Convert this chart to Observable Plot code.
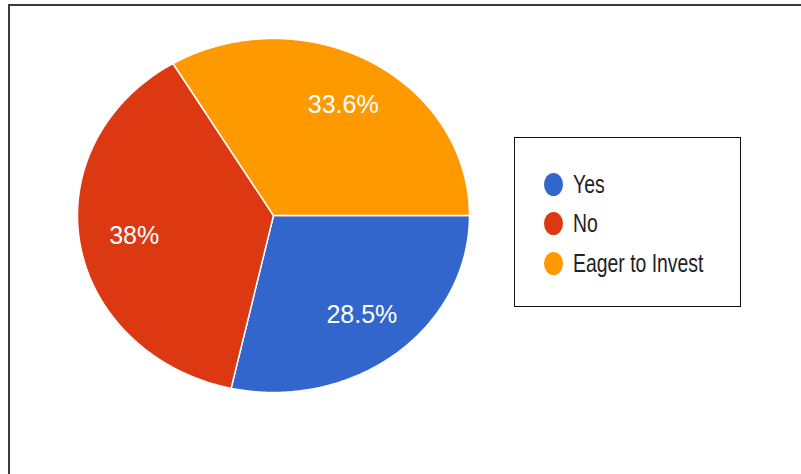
<!DOCTYPE html>
<html><head><meta charset="utf-8">
<script src="https://cdn.jsdelivr.net/npm/d3@7"></script>
<script src="https://cdn.jsdelivr.net/npm/@observablehq/plot@0.6"></script>
<style>
html,body{margin:0;padding:0;background:#fff;}
#wrap{position:relative;width:801px;height:474px;overflow:hidden;background:#fff;}
#chart{position:absolute;left:0;top:0;}
#frame{position:absolute;left:8px;top:4px;width:900px;height:600px;border-left:2px solid #3a3a3a;border-top:2px solid #3a3a3a;pointer-events:none;}
#legend{position:absolute;left:514px;top:137px;width:227px;height:170px;border:1px solid #111;box-sizing:border-box;background:#fff;font-family:"Liberation Sans",Arial,sans-serif;}
.sw{position:absolute;left:29px;width:19px;height:23px;border-radius:50%;}
.lb{position:absolute;left:58px;font-size:19.4px;line-height:19px;height:19px;color:#222;white-space:nowrap;transform-origin:left center;transform:scaleY(1.3);}
</style>
</head><body>
<div id="wrap"><div id="chart"></div><div id="frame"></div><div id="legend"></div></div>
<script>
const categories = ["Yes", "No", "Eager to Invest"];
const values = [28.5, 38, 33.6];
const labels = ["28.5%", "38%", "33.6%"];
const colors = ["#3366cc", "#dc3912", "#ff9900"];
const startAngleDeg = 90; // clockwise from 12 o'clock

const total = d3.sum(values);
const slices = [];
let acc = startAngleDeg * Math.PI / 180;
categories.forEach((c, i) => {
  const span = values[i] / total * 2 * Math.PI;
  slices.push({cat: c, a0: acc, a1: acc + span, label: labels[i]});
  acc += span;
});

const pts = [];
for (const s of slices) {
  pts.push({cat: s.cat, x: 0, y: 0});
  const n = Math.max(2, Math.ceil((s.a1 - s.a0) / (Math.PI / 360)));
  for (let k = 0; k <= n; k++) {
    const t = s.a0 + (s.a1 - s.a0) * k / n;
    pts.push({cat: s.cat, x: Math.sin(t), y: Math.cos(t)});
  }
  pts.push({cat: s.cat, x: 0, y: 0});
}

const labelR = 0.72;
const labelPts = slices.map(s => {
  const m = (s.a0 + s.a1) / 2;
  return {cat: s.cat, label: s.label, x: labelR * Math.sin(m), y: labelR * Math.cos(m)};
});

const chart = Plot.plot({
  width: 801,
  height: 474,
  margin: 0,
  style: {fontFamily: "'Liberation Sans', Arial, sans-serif", background: "transparent"},
  x: {domain: [-1, 1], range: [77, 469], axis: null},
  y: {domain: [-1, 1], range: [392, 38], axis: null},
  color: {domain: categories, range: colors},
  marks: [
    Plot.line(pts, {x: "x", y: "y", z: "cat", fill: "cat", stroke: "white", strokeWidth: 1.5, curve: "linear"}),
    Plot.text(labelPts, {x: "x", y: "y", text: "label", fill: "white", fontSize: 25})
  ]
});
document.getElementById("chart").appendChild(chart);

const legend = document.getElementById("legend");
const rowY = [46.5, 85.5, 125];
categories.forEach((c, i) => {
  const sw = document.createElement("div");
  sw.className = "sw";
  sw.style.top = (rowY[i] - 11.5) + "px";
  sw.style.background = colors[i];
  legend.appendChild(sw);
  const lb = document.createElement("div");
  lb.className = "lb";
  lb.style.top = (rowY[i] - 9.5) + "px";
  lb.textContent = c;
  legend.appendChild(lb);
});
</script>
</body></html>
